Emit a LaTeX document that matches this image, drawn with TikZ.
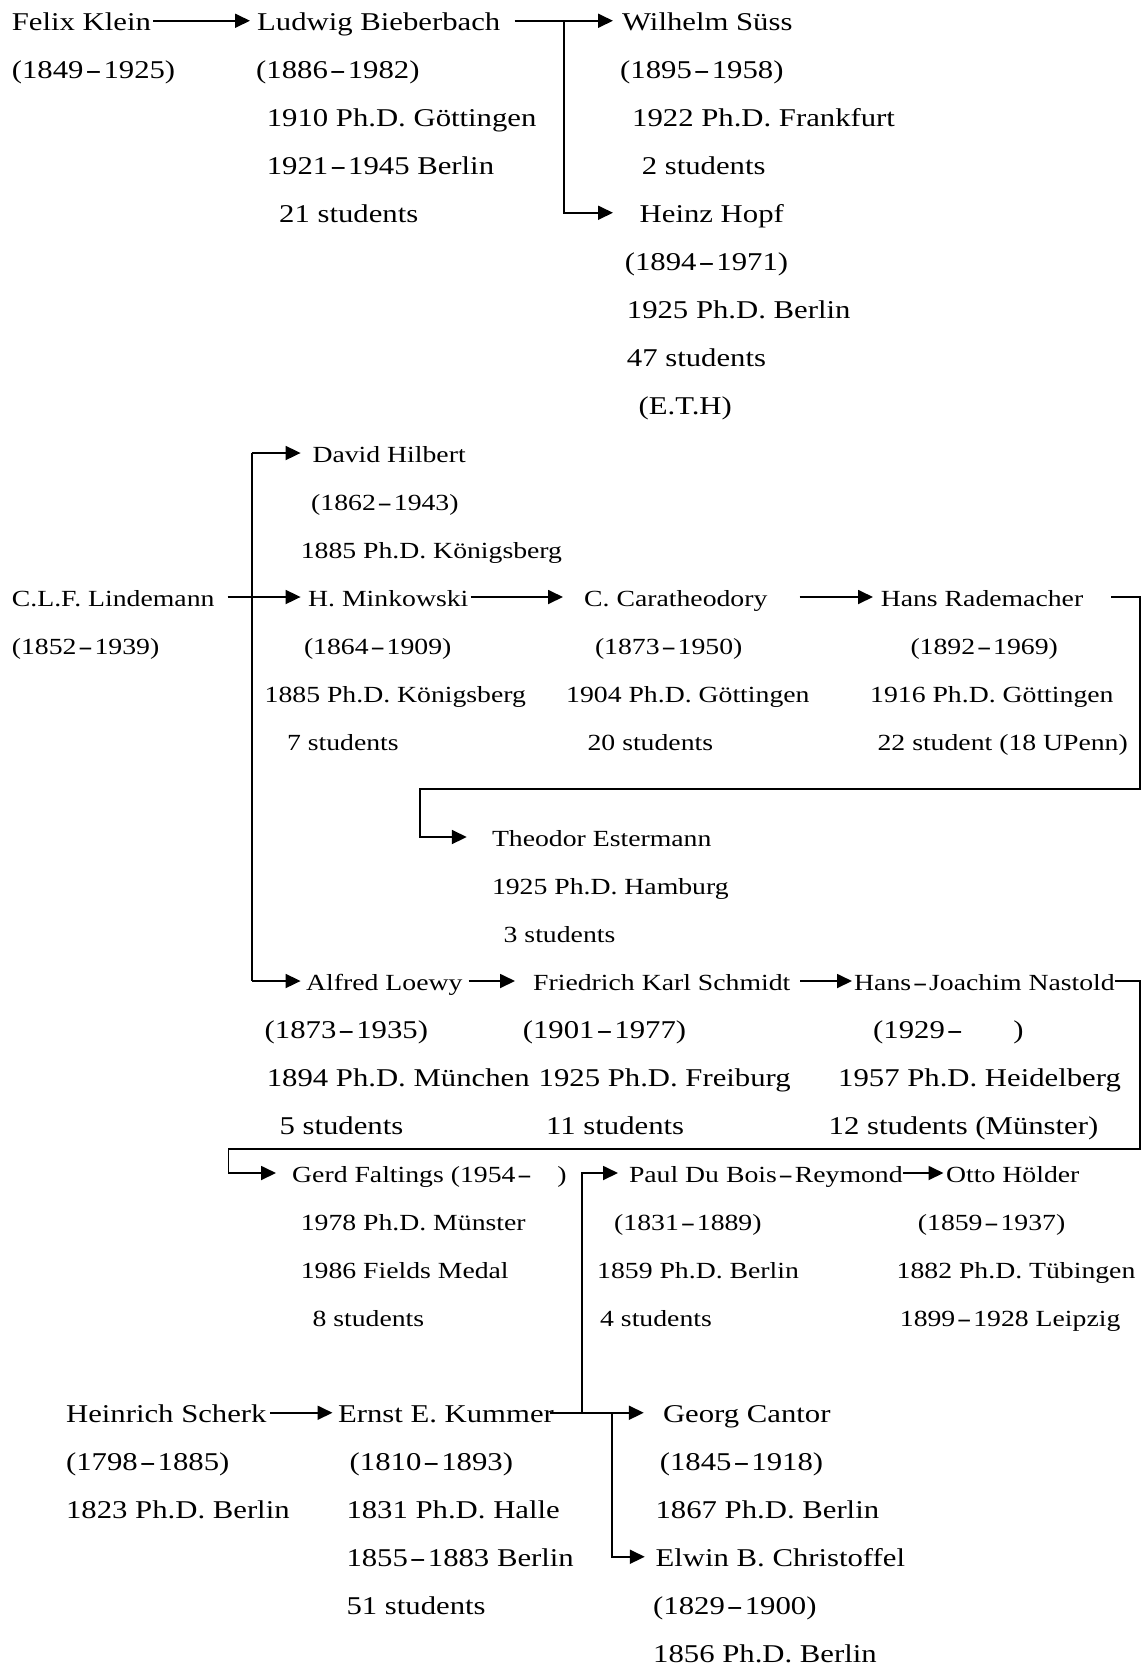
\documentclass[tikz,border=0pt]{standalone}
\usepackage{fontspec}
\setmainfont{Liberation Serif}[FakeStretch=1.2]
\usetikzlibrary{arrows.meta}
\tikzset{
  bigtxt/.style={anchor=base west, inner sep=0pt, text height=18.5pt, text depth=0pt,
                 font=\fontsize{25.6}{30}\selectfont},
  smalltxt/.style={anchor=base west, inner sep=0pt, text height=18pt, text depth=0pt,
                   font=\fontsize{23.1}{28}\selectfont},
  arrowline/.style={line width=1.8pt, -{Triangle[length=15pt,width=14pt]}},
  tieline/.style={line width=1.8pt}
}
% one text line: style, name, x, row number, text
\newcommand\entry[5]{\node[#1] (#2) at (#3, {30+48*#4}) {#5};}
% the wide hyphen of the dates
\newcommand\hy{\makebox[0.78em]{\scalebox{1.6}[1]{-}}}
\begin{document}
\begin{tikzpicture}[x=1pt, y=-1pt]
\fill[white] (0,0) rectangle (1144,1666);
\useasboundingbox (0,0) rectangle (1144,1666);

% ---------- Klein line ----------
\entry{bigtxt}{klein}{11.7}{0}{Felix Klein}
\entry{bigtxt}{kleinA}{11.7}{1}{(1849\hy 1925)}
\entry{bigtxt}{bieber}{257}{0}{Ludwig Bieberbach}
\entry{bigtxt}{bieberA}{256}{1}{(1886\hy 1982)}
\entry{bigtxt}{bieberB}{266.6}{2}{1910 Ph.D. Göttingen}
\entry{bigtxt}{bieberC}{266.6}{3}{1921\hy 1945 Berlin}
\entry{bigtxt}{bieberD}{279}{4}{21 students}
\entry{bigtxt}{suss}{622}{0}{Wilhelm Süss}
\entry{bigtxt}{sussA}{620}{1}{(1895\hy 1958)}
\entry{bigtxt}{sussB}{632}{2}{1922 Ph.D. Frankfurt}
\entry{bigtxt}{sussC}{641.6}{3}{2 students}
\entry{bigtxt}{hopf}{639.5}{4}{Heinz Hopf}
\entry{bigtxt}{hopfA}{624.6}{5}{(1894\hy 1971)}
\entry{bigtxt}{hopfB}{626.7}{6}{1925 Ph.D. Berlin}
\entry{bigtxt}{hopfC}{626.7}{7}{47 students}
\entry{bigtxt}{hopfD}{638.4}{8}{(E.T.H)}

\coordinate (bj) at (563.6,0);
\draw[arrowline] ([xshift=2pt]klein.east) -- ([xshift=-7pt]bieber.west);
\draw[arrowline] ([xshift=14pt]bieber.east) -- ([xshift=-9pt]suss.west);
\draw[arrowline] (bieber.east -| bj) |- ([xshift=-26.5pt]hopf.west);

% ---------- Lindemann line ----------
\entry{smalltxt}{hilbert}{312.3}{9}{David Hilbert}
\entry{smalltxt}{hilbertA}{311}{10}{(1862\hy 1943)}
\entry{smalltxt}{hilbertB}{300.6}{11}{1885 Ph.D. Königsberg}
\entry{smalltxt}{lind}{11.7}{12}{C.L.F. Lindemann}
\entry{smalltxt}{lindA}{11.7}{13}{(1852\hy 1939)}
\entry{smalltxt}{mink}{308}{12}{H. Minkowski}
\entry{smalltxt}{minkA}{303.8}{13}{(1864\hy 1909)}
\entry{smalltxt}{minkB}{264.5}{14}{1885 Ph.D. Königsberg}
\entry{smalltxt}{minkC}{286.8}{15}{7 students}
\entry{smalltxt}{cara}{584}{12}{C. Caratheodory}
\entry{smalltxt}{caraA}{594.8}{13}{(1873\hy 1950)}
\entry{smalltxt}{caraB}{566}{14}{1904 Ph.D. Göttingen}
\entry{smalltxt}{caraC}{587.4}{15}{20 students}
\entry{smalltxt}{rade}{880.6}{12}{Hans Rademacher}
\entry{smalltxt}{radeA}{910.3}{13}{(1892\hy 1969)}
\entry{smalltxt}{radeB}{870}{14}{1916 Ph.D. Göttingen}
\entry{smalltxt}{radeC}{877.4}{15}{22 student (18 UPenn)}
\entry{smalltxt}{ester}{491.8}{17}{Theodor Estermann}
\entry{smalltxt}{esterA}{491.8}{18}{1925 Ph.D. Hamburg}
\entry{smalltxt}{esterB}{503.5}{19}{3 students}
\entry{smalltxt}{loewy}{306}{20}{Alfred Loewy}
\entry{bigtxt}{loewyA}{264.5}{21}{(1873\hy 1935)}
\entry{bigtxt}{loewyB}{266.6}{22}{1894 Ph.D. München}
\entry{bigtxt}{loewyC}{279.4}{23}{5 students}
\entry{smalltxt}{schmidt}{533}{20}{Friedrich Karl Schmidt}
\entry{bigtxt}{schmidtA}{522.6}{21}{(1901\hy 1977)}
\entry{bigtxt}{schmidtB}{538.5}{22}{1925 Ph.D. Freiburg}
\entry{bigtxt}{schmidtC}{546}{23}{11 students}
\entry{smalltxt}{nast}{854}{20}{Hans\hy Joachim Nastold}
\entry{bigtxt}{nastA}{873}{21}{(1929\hy\hspace{48.5pt})}
\entry{bigtxt}{nastB}{838}{22}{1957 Ph.D. Heidelberg}
\entry{bigtxt}{nastC}{828.5}{23}{12 students (Münster)}
\entry{smalltxt}{falt}{292}{24}{Gerd Faltings (1954\hy\hspace{24pt})}
\entry{smalltxt}{faltA}{300.6}{25}{1978 Ph.D. Münster}
\entry{smalltxt}{faltB}{300.6}{26}{1986 Fields Medal}
\entry{smalltxt}{faltC}{312.3}{27}{8 students}

\coordinate (tk) at (251.7,0);
\draw[tieline] (tk |- hilbert.west) -- (tk |- loewy.west);
\draw[arrowline] (tk |- hilbert.west) -- ([xshift=-11.7pt]hilbert.west);
\draw[arrowline] (tk |- loewy.west) -- ([xshift=-5.4pt]loewy.west);
\draw[arrowline] ([xshift=13pt]lind.east) -- ([xshift=-7.4pt]mink.west);
\draw[arrowline] ([xshift=2pt]mink.east) -- ([xshift=-21pt]cara.west);
\draw[arrowline] ([xshift=32pt]cara.east) -- ([xshift=-7.6pt]rade.west);
\coordinate (loopA) at (1139.7,789);
\coordinate (loopB) at (419.6,789);
\draw[arrowline] ([xshift=28pt]rade.east) -| (loopA) -- (loopB) |- ([xshift=-25pt]ester.west);
\draw[arrowline] ([xshift=6pt]loewy.east) -- ([xshift=-18pt]schmidt.west);
\draw[arrowline] ([xshift=9.5pt]schmidt.east) -- ([xshift=-2pt]nast.west);
\coordinate (loopC) at (1139.7,1149);
\coordinate (loopD) at (228.4,1149);
\draw[arrowline] (nast.east) -| (loopC) -- (loopD) |- ([xshift=-16pt]falt.west);

% ---------- Kummer line ----------
\entry{smalltxt}{paul}{628.8}{24}{Paul Du Bois\hy Reymond}
\entry{smalltxt}{paulA}{614}{25}{(1831\hy 1889)}
\entry{smalltxt}{paulB}{597}{26}{1859 Ph.D. Berlin}
\entry{smalltxt}{paulC}{600}{27}{4 students}
\entry{smalltxt}{otto}{946}{24}{Otto Hölder}
\entry{smalltxt}{ottoA}{917.7}{25}{(1859\hy 1937)}
\entry{smalltxt}{ottoB}{896.5}{26}{1882 Ph.D. Tübingen}
\entry{smalltxt}{ottoC}{899.7}{27}{1899\hy 1928 Leipzig}
\draw[arrowline] (paul.east) -- ([xshift=-2.5pt]otto.west);

\entry{bigtxt}{scherk}{65.9}{29}{Heinrich Scherk}
\entry{bigtxt}{scherkA}{65.9}{30}{(1798\hy 1885)}
\entry{bigtxt}{scherkB}{65.9}{31}{1823 Ph.D. Berlin}
\entry{bigtxt}{kummer}{337.8}{29}{Ernst E. Kummer}
\entry{bigtxt}{kummerA}{349.5}{30}{(1810\hy 1893)}
\entry{bigtxt}{kummerB}{346.3}{31}{1831 Ph.D. Halle}
\entry{bigtxt}{kummerC}{346.3}{32}{1855\hy 1883 Berlin}
\entry{bigtxt}{kummerD}{346.3}{33}{51 students}
\entry{bigtxt}{cantor}{662.8}{29}{Georg Cantor}
\entry{bigtxt}{cantorA}{659.6}{30}{(1845\hy 1918)}
\entry{bigtxt}{cantorB}{655.4}{31}{1867 Ph.D. Berlin}
\entry{bigtxt}{christ}{655.4}{32}{Elwin B. Christoffel}
\entry{bigtxt}{christA}{653}{33}{(1829\hy 1900)}
\entry{bigtxt}{christB}{653}{34}{1856 Ph.D. Berlin}

\draw[arrowline] ([xshift=3pt]scherk.east) -- ([xshift=-5.3pt]kummer.west);
\draw[arrowline] ([xshift=-4pt]kummer.east) -- ([xshift=-19pt]cantor.west);
\coordinate (kv1) at (582,0);
\coordinate (kv2) at (612,0);
\draw[arrowline] (kummer.east -| kv1) |- ([xshift=-10.8pt]paul.west);
\draw[arrowline] (kummer.east -| kv2) |- ([xshift=-10.6pt]christ.west);
\end{tikzpicture}
\end{document}
